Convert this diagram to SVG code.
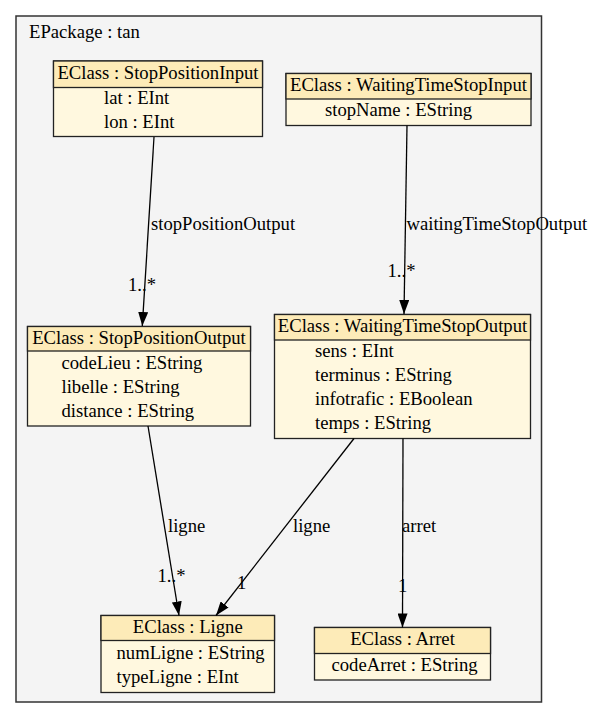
<svg xmlns="http://www.w3.org/2000/svg" width="591" height="719" viewBox="0 0 591 719">
<style>
text{font-family:"Liberation Serif","Times New Roman",serif;font-size:18.67px;fill:#000}
.hd{fill:#fdebb8;stroke:#222;stroke-width:1.3}
.bd{fill:#fff8df;stroke:#222;stroke-width:1.3}
.c{text-anchor:middle}
.e{fill:none;stroke:#000;stroke-width:1.3}
</style>
<defs>
<marker id="ah" viewBox="0 0 14 10" refX="14" refY="5" markerWidth="14" markerHeight="10" markerUnits="userSpaceOnUse" orient="auto">
<path d="M0,0 L14,5 L0,10 z" fill="#000"/>
</marker>
</defs>
<rect width="591" height="719" fill="#fff"/>
<g id="package">
<rect x="16" y="16" width="525.5" height="686" fill="#f4f4f4" stroke="#333" stroke-width="1.5"/>
<text x="29" y="38">EPackage : tan</text>
</g>
<g id="StopPositionInput">
<rect class="bd" x="53.5" y="61" width="209" height="75.5"/>
<rect class="hd" x="53.5" y="61" width="209" height="26.5"/>
<text class="c" x="158" y="79">EClass : StopPositionInput</text>
<text x="104" y="104">lat : EInt</text>
<text x="104" y="128">lon : EInt</text>
</g>
<g id="WaitingTimeStopInput">
<rect class="bd" x="286" y="73.5" width="245" height="52"/>
<rect class="hd" x="286" y="73.5" width="245" height="25.5"/>
<text class="c" x="408.5" y="91">EClass : WaitingTimeStopInput</text>
<text x="325" y="116">stopName : EString</text>
</g>
<g id="StopPositionOutput">
<rect class="bd" x="27.5" y="326.5" width="223" height="99.5"/>
<rect class="hd" x="27.5" y="326.5" width="223" height="24.5"/>
<text class="c" x="139" y="344">EClass : StopPositionOutput</text>
<text x="61.5" y="369">codeLieu : EString</text>
<text x="61.5" y="393">libelle : EString</text>
<text x="61.5" y="417">distance : EString</text>
</g>
<g id="WaitingTimeStopOutput">
<rect class="bd" x="274.5" y="314.5" width="256" height="124"/>
<rect class="hd" x="274.5" y="314.5" width="256" height="25.5"/>
<text class="c" x="402.5" y="332">EClass : WaitingTimeStopOutput</text>
<text x="315" y="357">sens : EInt</text>
<text x="315" y="381">terminus : EString</text>
<text x="315" y="405">infotrafic : EBoolean</text>
<text x="315" y="429">temps : EString</text>
</g>
<g id="Ligne">
<rect class="bd" x="101" y="615.5" width="173.5" height="77"/>
<rect class="hd" x="101" y="615.5" width="173.5" height="25"/>
<text class="c" x="187.75" y="633">EClass : Ligne</text>
<text x="116.5" y="659">numLigne : EString</text>
<text x="116.5" y="683">typeLigne : EInt</text>
</g>
<g id="Arret">
<rect class="bd" x="314.5" y="627.5" width="176" height="52.5"/>
<rect class="hd" x="314.5" y="627.5" width="176" height="26"/>
<text class="c" x="402.5" y="645">EClass : Arret</text>
<text x="331.5" y="671">codeArret : EString</text>
</g>
<g id="connectors">
<path class="e" d="M154,137 L142.3,326" marker-end="url(#ah)"/>
<path class="e" d="M407,125.5 L404,314" marker-end="url(#ah)"/>
<path class="e" d="M148,426 L179,615.5" marker-end="url(#ah)"/>
<path class="e" d="M354,438.5 L216,615.5" marker-end="url(#ah)"/>
<path class="e" d="M403,438.5 L402.5,627.5" marker-end="url(#ah)"/>
<text x="151" y="229.5">stopPositionOutput</text>
<text x="128" y="291">1..*</text>
<text x="406.5" y="229.5">waitingTimeStopOutput</text>
<text x="387.5" y="277">1..*</text>
<text x="168" y="532">ligne</text>
<text x="157.5" y="582">1..*</text>
<text x="293" y="532">ligne</text>
<text x="237" y="589">1</text>
<text x="402" y="532">arret</text>
<text x="398" y="592">1</text>
</g>
</svg>
